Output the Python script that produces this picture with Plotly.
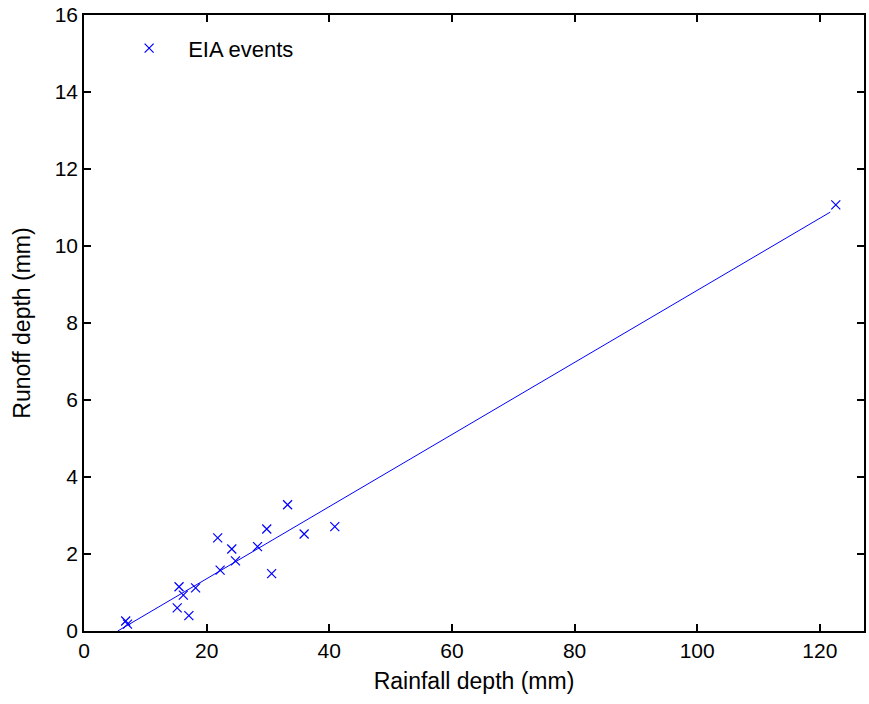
import plotly.graph_objects as go

rainfall = [6.8, 7.1, 15.5, 16.2, 15.2, 17.1, 18.2, 21.8, 22.2, 24.1, 24.7,
            28.3, 29.8, 30.6, 33.2, 35.9, 40.9, 122.6]
runoff = [0.26, 0.18, 1.15, 0.93, 0.60, 0.40, 1.12, 2.42, 1.58, 2.13, 1.82,
          2.19, 2.65, 1.49, 3.28, 2.52, 2.71, 11.07]
fit_x = [5.5, 121.7]
fit_y = [0.0, 10.88]

x_ticks = [0, 20, 40, 60, 80, 100, 120]
y_ticks = [0, 2, 4, 6, 8, 10, 12, 14, 16]

blue = "rgb(0,0,255)"
fig = go.Figure()
fig.add_trace(go.Scatter(x=rainfall, y=runoff, mode="markers", name="EIA events",
                         marker=dict(symbol="x-thin-open", size=9, color=blue,
                                     line=dict(color=blue, width=1.2))))
fig.add_trace(go.Scatter(x=fit_x, y=fit_y, mode="lines", showlegend=False,
                         line=dict(color=blue, width=1)))

axis_common = dict(showgrid=False, zeroline=False, showline=True, linecolor="black",
                   linewidth=1.5, mirror="ticks", ticks="inside", ticklen=7,
                   tickcolor="black", tickwidth=1.5, ticklabeloverflow="allow",
                   tickfont=dict(size=21, color="black"))
fig.update_layout(
    width=869, height=704,
    margin=dict(l=84, r=3, t=14, b=73),
    paper_bgcolor="white", plot_bgcolor="white",
    font=dict(family="Liberation Sans, Arial, sans-serif", color="black"),
    xaxis=dict(range=[0, 127.2], tickvals=x_ticks,
               title=dict(text="Rainfall depth (mm)", font=dict(size=23), standoff=12),
               **axis_common),
    yaxis=dict(range=[0, 16], tickvals=y_ticks,
               title=dict(text="Runoff depth (mm)", font=dict(size=23), standoff=18),
               **axis_common),
    legend=dict(x=0.0335, y=0.98, xanchor="left", yanchor="top", itemwidth=68,
                bgcolor="rgba(0,0,0,0)", font=dict(size=22, color="black")),
)
fig.write_html("out.html", config={"displayModeBar": False},
               post_script="document.body.style.margin='0';document.body.style.overflow='hidden';")
